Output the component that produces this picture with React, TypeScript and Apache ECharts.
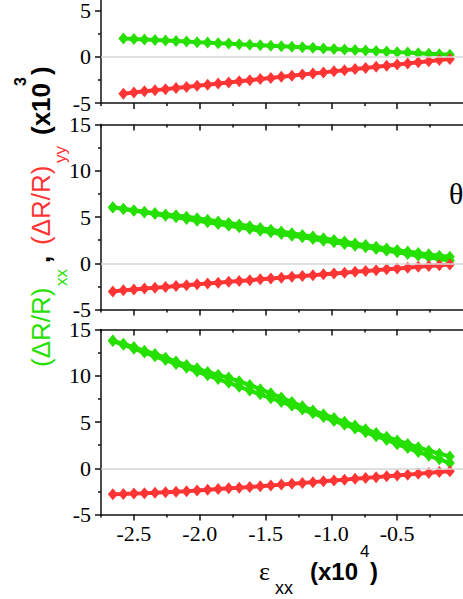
import React, { useEffect, useRef } from "react";
import * as echarts from "echarts";

// strain positions (x10^4)
const xs = [-2.66, -2.58, -2.5, -2.42, -2.34, -2.26, -2.18, -2.1, -2.02, -1.94, -1.86, -1.78, -1.7, -1.62, -1.54, -1.46, -1.38, -1.3, -1.22, -1.14, -1.06, -0.98, -0.9, -0.82, -0.74, -0.66, -0.58, -0.5, -0.42, -0.34, -0.26, -0.18, -0.1];
// top panel starts at xs[1]
const topGreen = [1.98, 1.93, 1.87, 1.81, 1.76, 1.7, 1.64, 1.58, 1.53, 1.47, 1.42, 1.36, 1.3, 1.25, 1.19, 1.13, 1.07, 1.02, 0.96, 0.9, 0.85, 0.79, 0.73, 0.68, 0.62, 0.56, 0.5, 0.45, 0.39, 0.33, 0.28, 0.22];
const topRed = [-3.99, -3.86, -3.74, -3.62, -3.5, -3.38, -3.26, -3.14, -3.02, -2.9, -2.78, -2.66, -2.54, -2.41, -2.29, -2.17, -2.05, -1.93, -1.81, -1.69, -1.57, -1.45, -1.33, -1.21, -1.09, -0.97, -0.84, -0.72, -0.6, -0.48, -0.36, -0.24];

const midGreenA = [6.04, 5.86, 5.68, 5.5, 5.32, 5.14, 4.96, 4.78, 4.6, 4.42, 4.24, 4.06, 3.88, 3.7, 3.52, 3.34, 3.16, 2.98, 2.8, 2.62, 2.44, 2.26, 2.08, 1.9, 1.72, 1.54, 1.36, 1.18, 1.0, 0.82, 0.64, 0.46, 0.3];
const midGreenB = [6.06, 5.9, 5.72, 5.56, 5.42, 5.26, 5.18, 5.02, 4.86, 4.7, 4.52, 4.36, 4.18, 4.0, 3.8, 3.62, 3.44, 3.24, 3.06, 2.88, 2.7, 2.52, 2.34, 2.14, 1.96, 1.78, 1.6, 1.42, 1.26, 1.1, 0.96, 0.82, 0.7];
const midRed = [-3.05, -2.92, -2.83, -2.74, -2.64, -2.56, -2.46, -2.37, -2.28, -2.19, -2.1, -2.01, -1.92, -1.83, -1.74, -1.65, -1.56, -1.47, -1.38, -1.29, -1.2, -1.11, -1.02, -0.93, -0.84, -0.75, -0.66, -0.57, -0.48, -0.39, -0.3, -0.22, -0.14];

const botGreenA = [13.75, 13.34, 12.93, 12.51, 12.1, 11.69, 11.28, 10.87, 10.46, 10.05, 9.64, 9.23, 8.82, 8.4, 7.99, 7.58, 7.17, 6.76, 6.35, 5.94, 5.53, 5.12, 4.71, 4.3, 3.88, 3.47, 3.06, 2.6, 2.18, 1.76, 1.36, 0.96, 0.58];
const botGreenB = [13.8, 13.45, 13.1, 12.7, 12.35, 11.95, 11.55, 11.15, 10.8, 10.4, 10.1, 9.8, 9.4, 9.0, 8.55, 8.1, 7.65, 7.15, 6.7, 6.25, 5.85, 5.42, 5.02, 4.62, 4.22, 3.8, 3.4, 3.0, 2.62, 2.26, 1.9, 1.58, 1.28];
const botRed = [-2.82, -2.78, -2.73, -2.69, -2.64, -2.59, -2.55, -2.49, -2.41, -2.33, -2.25, -2.17, -2.1, -2.02, -1.94, -1.86, -1.77, -1.68, -1.59, -1.5, -1.41, -1.32, -1.23, -1.14, -1.05, -0.96, -0.87, -0.79, -0.69, -0.59, -0.5, -0.41, -0.33];

// axis ticks
const xMajorTicks = [-2.5, -2.0, -1.5, -1.0, -0.5];
const xMinorTicks = [-2.75, -2.25, -1.75, -1.25, -0.75, -0.25];
const topPanelYLabels = [-5, 0, 5]; // the rest of the top panel is cut off
const xRange = { min: -2.75, max: 0 };
const yTicks = { min: -5, max: 15, interval: 5 };

const GREEN = "#25e000";
const RED = "#ff3535";
const AXIS = "#111";
const TICK_FAMILY = "'Liberation Serif', serif";
const OFF = 82; // the canvas is taller and shifted up; the top panel is cut

const pair = (x: number[], y: number[]) => y.map((v, i) => [x[i], v]);
const loop = (a: number[], b: number[]) => pair(xs, a).concat(pair(xs, b).reverse());

const t = (text: string, x: number, y: number, font: string, fill: string) => ({
  type: "text",
  x,
  y,
  style: {
    text,
    font,
    fill,
    align: "left",
    verticalAlign: "middle",
    textAlign: "left",
    textVerticalAlign: "middle",
  },
});

export default function App() {
  const ref = useRef<HTMLDivElement>(null);
  useEffect(() => {
    if (!ref.current) return;
    const chart = echarts.init(ref.current, null, { renderer: "svg" });
    const panels = [
      { left: 101, top: 0, width: 381, height: 185 },
      { left: 101, top: 124.5 + OFF, width: 381, height: 185 },
      { left: 101, top: 329.5 + OFF, width: 381, height: 185 },
    ];
    const grids = panels.concat(panels); // second set carries the minor x ticks
    const xAxes: any[] = [];
    const yAxes: any[] = [];
    const tickStyle = { color: AXIS, width: 1.5 };
    panels.forEach((_, gi) => {
      xAxes.push({
        type: "value",
        gridIndex: gi,
        position: "bottom",
        ...xRange,
        axisLine: { show: true, onZero: false, lineStyle: tickStyle },
        axisTick: { show: true, inside: false, length: 6, lineStyle: tickStyle, customValues: xMajorTicks },
        splitLine: { show: false },
        axisLabel: {
          show: gi === 2,
          customValues: xMajorTicks,
          margin: 8,
          color: "#000",
          fontFamily: TICK_FAMILY,
          fontSize: 22,
          formatter: (v: number) => v.toFixed(1),
        },
      });
      xAxes.push({
        type: "value",
        gridIndex: gi,
        position: "top",
        ...xRange,
        axisLine: { show: true, onZero: false, lineStyle: tickStyle },
        axisTick: { show: true, inside: true, length: 6, lineStyle: tickStyle, customValues: xMajorTicks },
        splitLine: { show: false },
        axisLabel: { show: false },
      });
      yAxes.push({
        type: "value",
        gridIndex: gi,
        ...yTicks,
        axisLine: { show: true, onZero: false, lineStyle: tickStyle },
        axisTick: { show: true, inside: false, length: 6, lineStyle: tickStyle },
        minorTick: { show: true, splitNumber: 2, length: 3, lineStyle: tickStyle },
        splitLine: { show: false },
        axisLabel: {
          margin: 10,
          color: "#000",
          fontFamily: TICK_FAMILY,
          fontSize: 22,
          ...(gi === 0 ? { customValues: topPanelYLabels } : {}),
        },
      });
    });
    panels.forEach((_, k) => {
      const gi = k + 3;
      ["bottom", "top"].forEach((pos) => {
        xAxes.push({
          type: "value",
          gridIndex: gi,
          position: pos,
          ...xRange,
          axisLine: { show: false, onZero: false },
          axisTick: { show: true, inside: pos === "top", length: 3, lineStyle: tickStyle, customValues: xMinorTicks },
          splitLine: { show: false },
          axisLabel: { show: false },
        });
      });
      yAxes.push({ type: "value", gridIndex: gi, show: false, ...yTicks });
    });

    const mk = (gi: number, data: number[][], color: string, z: number) => ({
      type: "line",
      xAxisIndex: gi * 2,
      yAxisIndex: gi,
      data,
      symbol: "diamond",
      symbolSize: [10, 12],
      showSymbol: true,
      z,
      lineStyle: { color, width: 4 },
      itemStyle: { color },
      emphasis: { disabled: true },
    });
    const zeroLine = (gi: number) => ({
      type: "line",
      xAxisIndex: gi * 2,
      yAxisIndex: gi,
      data: [[-2.75, null]],
      symbol: "none",
      z: 1,
      silent: true,
      markLine: {
        silent: true,
        symbol: ["none", "none"],
        label: { show: false },
        lineStyle: { color: "#d6d6d6", width: 1.5, type: "solid" },
        data: [{ yAxis: 0 }],
      },
    });

    const series: any[] = [
      zeroLine(0),
      zeroLine(1),
      zeroLine(2),
      mk(0, pair(xs.slice(1), topGreen), GREEN, 3),
      mk(0, pair(xs.slice(1), topRed), RED, 4),
      mk(1, loop(midGreenA, midGreenB), GREEN, 3),
      mk(1, pair(xs, midRed), RED, 4),
      mk(2, loop(botGreenA, botGreenB), GREEN, 3),
      mk(2, pair(xs, botRed), RED, 4),
    ];

    chart.setOption({
      animation: false,
      backgroundColor: "#fff",
      grid: grids,
      xAxis: xAxes,
      yAxis: yAxes,
      series,
      graphic: [
        {
          type: "group",
          x: 41,
          y: 367 + OFF,
          rotation: Math.PI / 2,
          children: [
            t("(ΔR/R)", 0, 0, "normal 26px 'Liberation Sans'", GREEN),
            t("xx", 81, 20, "normal 17px 'Liberation Sans'", GREEN),
            t(",", 104, 0, "bold 26px 'Liberation Sans'", "#000"),
            t("(ΔR/R)", 122, 0, "normal 26px 'Liberation Sans'", RED),
            t("yy", 204, 19, "normal 17px 'Liberation Sans'", RED),
            t("(x10", 232, 0, "bold 26px 'Liberation Sans'", "#000"),
            t("3", 281, -21, "bold 16px 'Liberation Sans'", "#000"),
            t(")", 292, 0, "bold 26px 'Liberation Sans'", "#000"),
          ],
        },
        t("ε", 259, 571 + OFF, "normal 26px 'Liberation Serif'", "#000"),
        t("xx", 275, 588 + OFF, "normal 18px 'Liberation Sans'", "#000"),
        t("(x10", 310, 571 + OFF, "bold 24px 'Liberation Sans'", "#000"),
        t("4", 360, 551 + OFF, "normal 17px 'Liberation Sans'", "#000"),
        t(")", 370, 571 + OFF, "bold 24px 'Liberation Sans'", "#000"),
        t("θ", 449, 193 + OFF, "normal 30px 'Liberation Serif'", "#000"),
      ],
    });
    return () => chart.dispose();
  }, []);
  return (
    <div
      ref={ref}
      style={{ position: "fixed", left: 0, top: -OFF, width: 463, height: 599 + OFF }}
    />
  );
}
